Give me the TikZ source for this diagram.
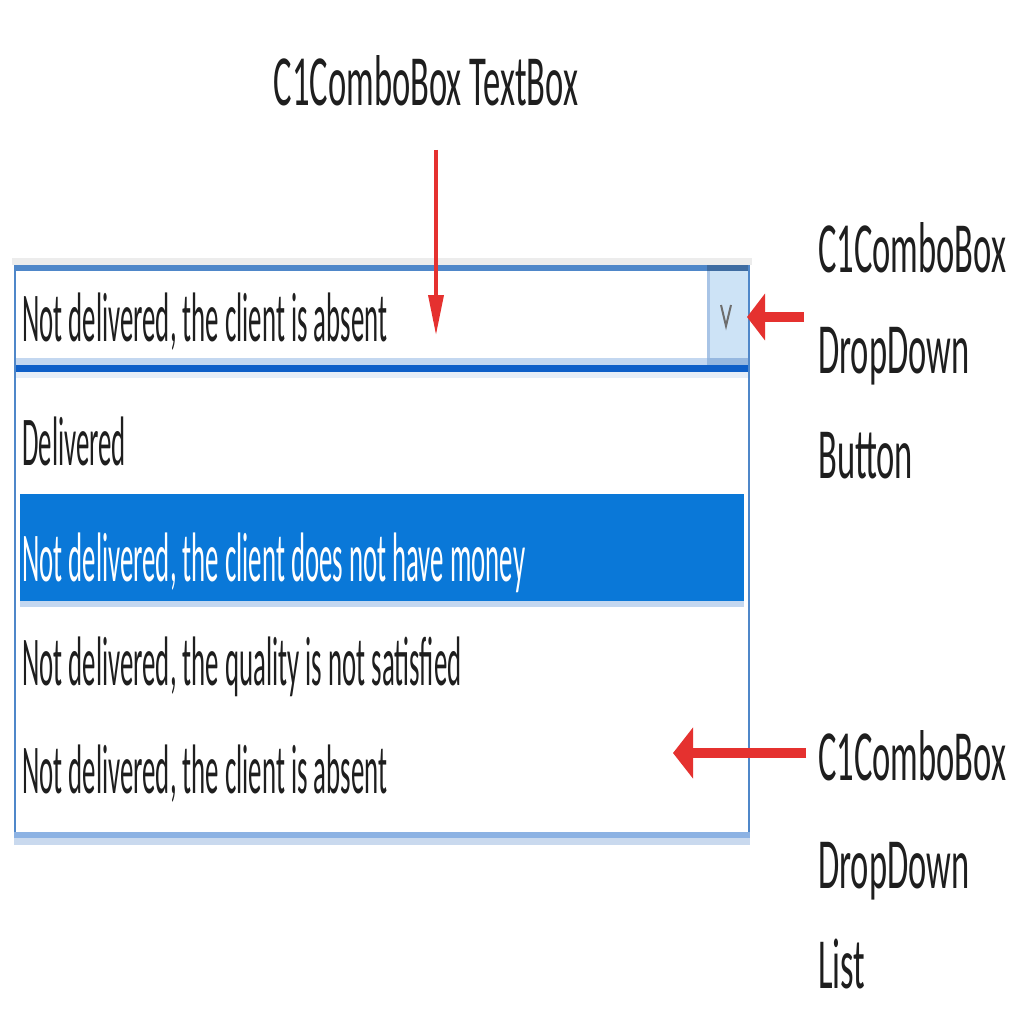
\documentclass[tikz,border=0pt]{standalone}
\usepackage{fontspec}
\usetikzlibrary{arrows.meta}
\newfontfamily\lblfont[FakeStretch=0.48]{Carlito}
\newfontfamily\itemfont[FakeStretch=0.383]{Carlito}
\definecolor{bordblue}{HTML}{4F87C9}
\definecolor{darkblue}{HTML}{0E5FC8}
\definecolor{lightstrip}{HTML}{C3D7F0}
\definecolor{paleblue}{HTML}{E6EEF8}
\definecolor{selblue}{HTML}{0A78D8}
\definecolor{btnfill}{HTML}{CDE3F6}
\definecolor{btnedge}{HTML}{A8C4E6}
\definecolor{topgray}{HTML}{ECECEC}
\definecolor{botblue}{HTML}{8CB2E3}
\definecolor{botpale}{HTML}{C9D9EE}
\definecolor{arrred}{HTML}{E5312F}
\definecolor{txtdark}{HTML}{1E1E1E}
\definecolor{chev}{HTML}{6E6E6E}
\tikzset{
  lbl/.style={inner sep=0pt, anchor=base west, font=\lblfont\fontsize{72}{72}\selectfont, text=txtdark},
  itm/.style={inner sep=0pt, anchor=base west, font=\itemfont\fontsize{70}{70}\selectfont, text=txtdark},
  thinarrow/.style={draw=arrred, line width=3.5pt, -{Triangle[length=40pt,width=15pt]}},
  fatarrow/.style={draw=arrred, line width=10pt, -{Triangle[length=18pt,width=46pt]}},
}
\begin{document}
\begin{tikzpicture}[x=1pt,y=-1pt]
\useasboundingbox (0,0) rectangle (1024,1024);
\fill[white] (0,0) rectangle (1024,1024);
% combo box frame
\fill[topgray] (12,258) rectangle (752,265);
\fill[white] (14,265) rectangle (750,838);
\fill[bordblue] (14,265) rectangle (750,271);
\fill[lightstrip] (16,358) rectangle (750,365);
\fill[darkblue] (14,365) rectangle (750,372);
\fill[paleblue] (16,372) rectangle (748,378);
% dropdown button
\fill[btnfill] (707,271) rectangle (748,358);
\fill[btnedge] (707,271) rectangle (710,365);
\fill[btnedge!80!bordblue] (707,358) rectangle (750,365);
\fill[bordblue!80!black] (707,265) rectangle (750,271);
\draw[chev, line width=2pt] (721,305) -- (726,326) -- (731,305);
% side borders
\fill[bordblue] (14,265) rectangle (16,838);
\fill[bordblue] (748,265) rectangle (750,838);
% bottom border
\fill[botblue] (14,832) rectangle (750,838);
\fill[botpale] (14,838) rectangle (750,845);
% selection
\fill[selblue] (20,494) rectangle (744,601);
\fill[lightstrip] (20,601) rectangle (744,607);
% texts in box
\node[itm] (tbtext) at (22,341) {Not delivered, the client is absent};
\node[itm] (it1) at (22,465) {Delivered};
\node[itm, text=white] (it2) at (22,581) {Not delivered, the client does not have money};
\node[itm] (it3) at (22,685) {Not delivered, the quality is not satisfied};
\node[itm] (it4) at (22,793) {Not delivered, the client is absent};
% labels
\node[lbl, anchor=base] (ttl) at (426,106) {C1ComboBox TextBox};
\node[lbl] (bl1) at (818,272) {C1ComboBox};
\node[lbl] (bl2) at (818,373) {DropDown};
\node[lbl] (bl3) at (818,478) {Button};
\node[lbl] (ll1) at (818,780) {C1ComboBox};
\node[lbl] (ll2) at (818,888) {DropDown};
\node[lbl] (ll3) at (818,988) {List};
% arrows
\coordinate (tbtail) at (436,150);
\coordinate (tbtip) at (436,335);
\coordinate (btntail) at (804,317);
\coordinate (btntip) at (747,317);
\coordinate (lsttail) at (806,753);
\coordinate (lsttip) at (673,753);
\draw[thinarrow] (tbtail) -- (tbtip);
\draw[fatarrow] (btntail) -- (btntip);
\draw[fatarrow, -{Triangle[length=20pt,width=50pt]}] (lsttail) -- (lsttip);
\end{tikzpicture}
\end{document}
